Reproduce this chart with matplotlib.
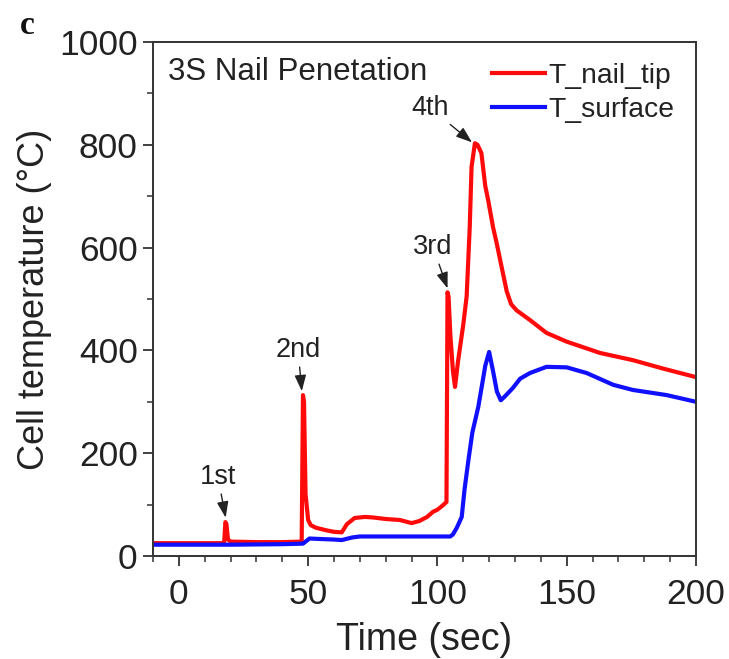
import numpy as np
import matplotlib
matplotlib.use("Agg")
import matplotlib.pyplot as plt

plt.rcParams['font.family'] = ['Liberation Sans', 'DejaVu Sans']

# T_nail_tip (red)
t_tip = [-10, 17.5, 18.0, 18.4, 19.0, 20, 30, 40, 47.5, 48.0, 48.4, 49.0, 50, 51, 53,
         57, 60, 63, 65, 68, 72, 75, 80, 85.5, 90, 93, 96, 98.3, 100, 102.2, 103.5,
         103.9, 104.3, 105, 106, 106.8, 108, 110, 111.3, 112.5, 113.2, 114.5, 115.5,
         117, 118.5, 119.6, 121.5, 122.9, 124.8, 126.8, 128.5, 130.6, 135.8, 142.2,
         150, 162.9, 175.6, 187, 200]
T_tip = [25, 25, 66, 62, 32, 28, 27, 27, 28, 313, 300, 120, 70, 60, 55,
         50, 47, 46, 62, 74, 76, 75, 72, 70, 64, 68, 76, 86, 90, 99, 105,
         513, 505, 430, 360, 329, 380, 450, 505, 640, 757, 803, 800,
         784, 720, 693, 640, 609, 563, 515, 490, 478, 459, 434,
         417, 395, 381, 365, 348]

# T_surface (blue)
t_surf = [-10, 20, 40, 48, 49, 50.5, 55, 60, 63, 67, 70, 80, 90, 100, 105, 106,
          107.5, 109.4, 110.5, 112, 113.5, 115.8, 117.5, 118.5, 120, 121.5, 123,
          124.5, 126, 129.2, 132, 135.8, 142.2, 150, 157.7, 168, 175.6, 188.7, 200]
T_surf = [22, 22, 23, 24, 28, 34, 33, 32, 31, 36, 38, 38, 38, 38, 38, 42,
          55, 76, 130, 187, 240, 290, 340, 370, 397, 360, 320,
          303, 310, 327, 345, 356, 368, 367, 356, 333, 323, 313, 300]

# annotations: label, text position, arrow tip
ann_labels = ['1st', '2nd', '3rd', '4th']
ann_text = [(15.1, 154), (46.1, 401), (98.3, 601), (97.1, 872)]
ann_tip = [(18.2, 72), (47.6, 318), (104.1, 518), (113.8, 803)]

fig = plt.figure(figsize=(7.29, 6.59), dpi=100)
ax = fig.add_axes([0.2099, 0.1563, 0.7448, 0.78])

ax.plot(t_tip, T_tip, color='#ff0a0a', lw=3, label='T_nail_tip', solid_joinstyle='round')
ax.plot(t_surf, T_surf, color='#1010ff', lw=3, label='T_surface', solid_joinstyle='round')

ax.set_xlim(-10, 200)
ax.set_ylim(0, 1000)
ax.set_xticks([0, 50, 100, 150, 200])
ax.set_xticks(np.arange(-10, 201, 10), minor=True)
ax.set_yticks([0, 200, 400, 600, 800, 1000])
ax.set_yticks(np.arange(0, 1001, 100), minor=True)

txt_col = '#222222'
ax.tick_params(which='major', direction='out', length=7, width=1.3, labelsize=25.5,
               colors='#333333', labelcolor=txt_col, pad=4)
ax.tick_params(axis='x', which='major', pad=9)
ax.tick_params(which='minor', direction='out', length=4, width=1.1, colors='#333333')
for s in ax.spines.values():
    s.set_linewidth(1.4)
    s.set_color('#333333')

ax.set_xlabel('Time (sec)', fontsize=27, color=txt_col, labelpad=8)
ax.set_ylabel('Cell temperature (°C)', fontsize=26, color=txt_col, labelpad=5)

ax.text(0.028, 0.942, '3S Nail Penetation', transform=ax.transAxes, fontsize=22.5,
        color=txt_col, ha='left', va='center')

for lab, xt, tip in zip(ann_labels, ann_text, ann_tip):
    ax.annotate(lab, xy=tip, xytext=xt, fontsize=19.5, color=txt_col,
                ha='center', va='center',
                arrowprops=dict(arrowstyle='-|>,head_length=0.5,head_width=0.18',
                                color='#222222', lw=1.0, shrinkA=1, shrinkB=1))

leg = ax.legend(loc='upper right', frameon=False, fontsize=20.3, handlelength=1.85,
                handletextpad=0.15, labelspacing=0.28, borderaxespad=0.35)
for t in leg.get_texts():
    t.set_color(txt_col)

fig.text(0.037, 0.962, 'c', fontfamily='Liberation Serif', fontweight='bold',
         fontsize=24, ha='center', va='center', color='#111111')

fig.savefig('out.png', dpi=100)
